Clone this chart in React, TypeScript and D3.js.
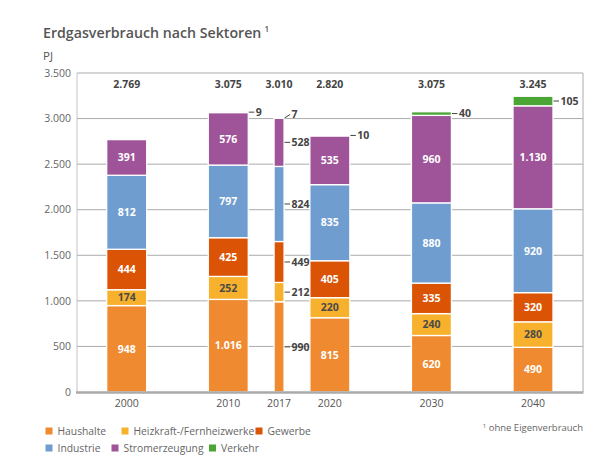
import React from "react";
import * as d3 from "d3";

const years = ["2000", "2010", "2017", "2020", "2030", "2040"];
const narrowYears = ["2017"];
const seriesNames = ["Haushalte", "Heizkraft-/Fernheizwerke", "Gewerbe", "Industrie", "Stromerzeugung", "Verkehr"];
const haushalte = [948, 1016, 990, 815, 620, 490];
const heizkraft = [174, 252, 212, 220, 240, 280];
const gewerbe = [444, 425, 449, 405, 335, 320];
const industrie = [812, 797, 824, 835, 880, 920];
const strom = [391, 576, 528, 535, 960, 1130];
const verkehr = [0, 9, 7, 10, 40, 105];
const totals = [2769, 3075, 3010, 2820, 3075, 3245];
const yTicks = [0, 500, 1000, 1500, 2000, 2500, 3000, 3500];
const colors = ["#EF8A30", "#F8B12C", "#DB5405", "#709DD0", "#9F5399", "#4BA535"];
const labelColors = ["#fff", "#4a4a4a", "#fff", "#fff", "#fff", "#fff"];

const seriesValues = [haushalte, heizkraft, gewerbe, industrie, strom, verkehr];

const locale = d3.formatLocale({ decimal: ",", thousands: ".", grouping: [3], currency: ["", "€"] });
const fmt = locale.format(",d");

const FONT = "'Open Sans', 'DejaVu Sans', sans-serif";

export default function App() {
  const W = 612, H = 474;
  const left = 77, right = 583, top = 73, bottom = 392;
  const y = d3.scaleLinear().domain([0, 3500]).range([bottom, top]);
  const xYear = d3.scaleLinear().domain([2000, 2040]).range([126.7, 533]);
  const xPos = (i: number) => {
    if (narrowYears.includes(years[i])) {
      return (xYear(+years[i - 1]) + xYear(+years[i + 1])) / 2;
    }
    return xYear(+years[i]);
  };
  const barW = (i: number) => (narrowYears.includes(years[i]) ? 10 : 40);

  const table = years.map((yr, i) => {
    const row: any = { year: yr };
    seriesNames.forEach((s, k) => (row[s] = seriesValues[k][i]));
    return row;
  });
  const stacked = d3.stack().keys(seriesNames)(table);

  const legendRows = [
    [0, 1, 2],
    [3, 4, 5],
  ];
  const legendX = [[45.5, 121.5, 255.5], [45.5, 111.5, 209]];

  return (
    <svg width={W} height={H} style={{ position: "absolute", left: 0, top: 0, fontFamily: FONT }}>
      <rect width={W} height={H} fill="#fff" />
      <text x={43} y={38} fontSize={14.2} fontWeight={600} fill="#555">
        Erdgasverbrauch nach Sektoren
        <tspan fontSize={8} dy={-6} dx={3}>1</tspan>
      </text>
      <text x={43} y={60} fontSize={11.5} fill="#555">PJ</text>

      {/* grid */}
      {yTicks.filter((t) => t > 0 && t < 3500).map((t) => (
        <line key={t} x1={left} x2={right} y1={y(t)} y2={y(t)} stroke="#ababab" strokeWidth={1} />
      ))}
      {/* frame */}
      <line x1={left} x2={right} y1={top} y2={top} stroke="#ababab" strokeWidth={1} />
      <line x1={left} x2={left} y1={top} y2={bottom} stroke="#c4c4c4" strokeWidth={1} />
      <line x1={right} x2={right} y1={top} y2={bottom} stroke="#ababab" strokeWidth={1} />

      {yTicks.map((t) => (
        <text key={t} x={71} y={y(t)} dy="0.35em" textAnchor="end" fontSize={10.5} fill="#666">
          {fmt(t)}
        </text>
      ))}

      {/* bars */}
      {stacked.map((layer, k) =>
        layer.map((d, i) => {
          const v = d[1] - d[0];
          if (v <= 0) return null;
          const cx = xPos(i);
          const w = barW(i);
          return (
            <rect key={`${k}-${i}`} x={cx - w / 2} y={y(d[1])} width={w} height={y(d[0]) - y(d[1])}
              fill={colors[k]} stroke="#fff" strokeWidth={1.3} />
          );
        })
      )}

      {/* labels */}
      {stacked.map((layer, k) =>
        layer.map((d, i) => {
          const v = d[1] - d[0];
          if (v <= 0) return null;
          const cx = xPos(i);
          const w = barW(i);
          const mid = y((d[0] + d[1]) / 2);
          const narrow = narrowYears.includes(years[i]);
          if (!narrow && k < 5) {
            return (
              <text key={`l${k}-${i}`} x={cx} y={mid} dy="0.36em" textAnchor="middle" fontSize={10.5}
                fontWeight={700} fill={labelColors[k]}>
                {fmt(v)}
              </text>
            );
          }
          const x0 = cx + w / 2 + 0.5;
          const diag = narrow && k === 5;
          const y1 = diag ? mid - 3.5 : mid;
          const x1 = x0 + 5.5;
          return (
            <g key={`l${k}-${i}`}>
              <line x1={x0} y1={mid} x2={x1} y2={y1} stroke="#444" strokeWidth={1} />
              <text x={x1 + 1.5} y={y1} dy="0.36em" fontSize={10.5} fontWeight={700} fill="#444">
                {fmt(v)}
              </text>
            </g>
          );
        })
      )}

      {/* totals */}
      {totals.map((t, i) => (
        <text key={`t${i}`} x={xPos(i)} y={84} dy="0.35em" textAnchor="middle" fontSize={10.5} fontWeight={700} fill="#444">
          {fmt(t)}
        </text>
      ))}

      {/* bottom axis */}
      <line x1={left - 1} x2={right + 0.5} y1={bottom + 0.5} y2={bottom + 0.5} stroke="#aaa" strokeWidth={2.5} />
      {years.map((yr, i) => (
        <text key={yr} x={xPos(i)} y={403} dy="0.35em" textAnchor="middle" fontSize={10.5} fill="#555">
          {yr}
        </text>
      ))}

      {/* legend */}
      {legendRows.map((row, r) =>
        row.map((k, j) => (
          <g key={k} transform={`translate(${legendX[r][j]},${431 + r * 17})`}>
            <rect x={0} y={-3.5} width={7} height={7} fill={colors[k]} />
            <text x={12} y={0} dy="0.35em" fontSize={10.3} fill="#666">{seriesNames[k]}</text>
          </g>
        ))
      )}
      <text x={583} y={431} dy="0.35em" textAnchor="end" fontSize={9.5} fill="#666">
        <tspan fontSize={6} dy={-3}>1</tspan>
        <tspan dy={3}> ohne Eigenverbrauch</tspan>
      </text>
    </svg>
  );
}
